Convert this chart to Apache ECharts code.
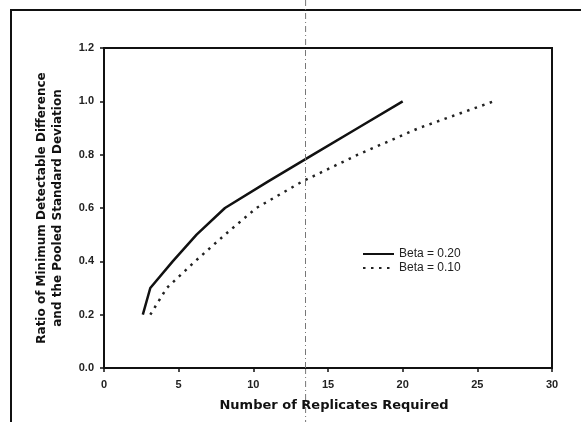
<!DOCTYPE html>
<html>
<head>
<meta charset="utf-8">
<script src="https://cdn.jsdelivr.net/npm/echarts@6/dist/echarts.min.js"></script>
<style>
  html, body { margin: 0; padding: 0; background: #fff; }
  #chart { width: 581px; height: 422px; }
</style>
</head>
<body>
<div id="chart"></div>
<script>
// values
const beta20X = [2.6, 3.1, 4.6, 6.2, 8.1, 11.0, 14.0, 17.0, 20.0];
const beta20Y = [0.2, 0.3, 0.4, 0.5, 0.6, 0.7, 0.8, 0.9, 1.0];
const beta10X = [3.1, 4.2, 6.1, 8.1, 10.2, 13.3, 17.0, 21.1, 26.1];
const beta10Y = [0.2, 0.3, 0.4, 0.5, 0.6, 0.7, 0.8, 0.9, 1.0];
const seriesNames = ['Beta = 0.20', 'Beta = 0.10'];
const refLineX = 13.5;

function pairs(xs, ys) {
  return xs.map((x, i) => [x, ys[i]]);
}

const chart = echarts.init(document.getElementById('chart'));
const font = 'Liberation Sans, Arial, sans-serif';
const boldFont = 'DejaVu Sans, sans-serif';

const option = {
  animation: false,
  backgroundColor: '#fff',
  grid: { left: 104, right: 29, top: 48, bottom: 54, show: true, borderColor: '#111', borderWidth: 2 },
  xAxis: {
    type: 'value', min: 0, max: 30, interval: 5,
    axisLine: { onZero: false, lineStyle: { color: '#111', width: 2 } },
    axisTick: { show: true, length: 4, lineStyle: { color: '#111', width: 1.5 } },
    axisLabel: { color: '#222', fontFamily: font, fontSize: 11, fontWeight: 'bold', margin: 11 },
    splitLine: { show: false },
    name: 'Number of Replicates Required',
    nameLocation: 'middle', nameGap: 31,
    nameTextStyle: { color: '#111', fontFamily: boldFont, fontSize: 13, fontWeight: 'bold', padding: [0, 0, 0, 12] }
  },
  yAxis: {
    type: 'value', min: 0, max: 1.2, interval: 0.2,
    axisLine: { onZero: false, lineStyle: { color: '#111', width: 2 } },
    axisTick: { show: true, length: 4, lineStyle: { color: '#111', width: 1.5 } },
    axisLabel: { color: '#222', fontFamily: font, fontSize: 11, fontWeight: 'bold', margin: 10,
      formatter: v => v.toFixed(1) },
    splitLine: { show: false },
    name: 'Ratio of Minimum Detectable Difference\nand the Pooled Standard Deviation',
    nameLocation: 'middle', nameGap: 38,
    nameTextStyle: { color: '#111', fontFamily: boldFont, fontSize: 12, fontWeight: 'bold', lineHeight: 16 }
  },
  legend: {
    orient: 'vertical', left: 357, top: 243,
    itemWidth: 31, itemHeight: 9, itemGap: 2,
    itemStyle: { opacity: 0 },
    textStyle: { color: '#222', fontFamily: font, fontSize: 12 },
    data: seriesNames
  },
  series: [
    {
      name: seriesNames[0], type: 'line', symbol: 'none',
      data: pairs(beta20X, beta20Y),
      lineStyle: { color: '#111', width: 2.5 },
      itemStyle: { color: '#111' },
      markLine: {
        silent: true, symbol: 'none', label: { show: false },
        lineStyle: { color: '#777', width: 1, type: [6, 3, 1, 3] },
        data: [{ xAxis: refLineX }]
      }
    },
    {
      name: seriesNames[1], type: 'line', symbol: 'none',
      data: pairs(beta10X, beta10Y),
      lineStyle: { color: '#222', width: 2.5, type: [2.5, 5.5], cap: 'butt' },
      itemStyle: { color: '#222' }
    }
  ]
};
chart.setOption(option);

// outer frame of the figure and the fold line running past the plot
const refPx = chart.convertToPixel({ xAxisIndex: 0 }, refLineX);
const plotTop = chart.convertToPixel({ yAxisIndex: 0 }, 1.2);
const plotBottom = chart.convertToPixel({ yAxisIndex: 0 }, 0);
chart.setOption({
  graphic: [
    { type: 'line', shape: { x1: 11, y1: 10, x2: 11, y2: 422 }, style: { stroke: '#111', lineWidth: 2 } },
    { type: 'line', shape: { x1: 10, y1: 10, x2: 581, y2: 10 }, style: { stroke: '#111', lineWidth: 2 } },
    { type: 'line', shape: { x1: refPx, y1: 0, x2: refPx, y2: plotTop }, style: { stroke: '#777', lineWidth: 1, lineDash: [6, 3, 1, 3] } },
    { type: 'line', shape: { x1: refPx, y1: plotBottom, x2: refPx, y2: 422 }, style: { stroke: '#777', lineWidth: 1, lineDash: [6, 3, 1, 3] } }
  ]
});
</script>
</body>
</html>
